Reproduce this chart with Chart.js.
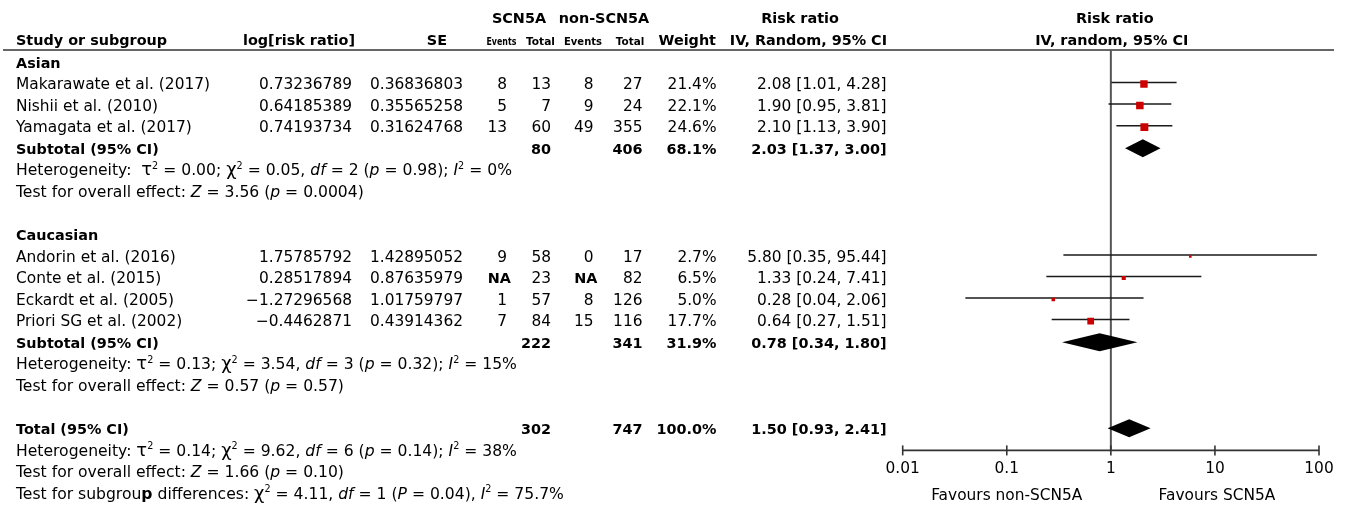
<!DOCTYPE html>
<html><head><meta charset="utf-8">
<script src="https://cdn.jsdelivr.net/npm/chart.js@4.4.1/dist/chart.umd.min.js"></script>
<style>html,body{margin:0;padding:0;background:#fff}#wrap{width:1347px;height:507px;position:relative}</style>
</head><body><div id="wrap"><canvas id="c"></canvas></div>
<script>
// ---------------- DATA ----------------
const groupNames = ['Asian', 'Caucasian'];
const studyNames = ['Makarawate et al. (2017)', 'Nishii et al. (2010)', 'Yamagata et al. (2017)',
  'Andorin et al. (2016)', 'Conte et al. (2015)', 'Eckardt et al. (2005)', 'Priori SG et al. (2002)'];
const studyGroup = ['Asian', 'Asian', 'Asian', 'Caucasian', 'Caucasian', 'Caucasian', 'Caucasian'];
const logRR = ['0.73236789', '0.64185389', '0.74193734', '1.75785792', '0.28517894', '\u22121.27296568', '\u22120.4462871'];
const seVals = ['0.36836803', '0.35565258', '0.31624768', '1.42895052', '0.87635979', '1.01759797', '0.43914362'];
const events1 = ['8', '5', '13', '9', 'NA', '1', '7'];
const totals1 = ['13', '7', '60', '58', '23', '57', '84'];
const events2 = ['8', '9', '49', '0', 'NA', '8', '15'];
const totals2 = ['27', '24', '355', '17', '82', '126', '116'];
const weights = [21.4, 22.1, 24.6, 2.7, 6.5, 5.0, 17.7];
const riskRatio = [2.08, 1.90, 2.10, 5.80, 1.33, 0.28, 0.64];
const ciLow = [1.01, 0.95, 1.13, 0.35, 0.24, 0.04, 0.27];
const ciHigh = [4.28, 3.81, 3.90, 95.44, 7.41, 2.06, 1.51];

const pooledLabels = ['Subtotal (95% CI)', 'Subtotal (95% CI)', 'Total (95% CI)'];
const pooledTotals1 = ['80', '222', '302'];
const pooledTotals2 = ['406', '341', '747'];
const pooledWeight = ['68.1%', '31.9%', '100.0%'];
const pooledRR = [2.03, 0.78, 1.50];
const pooledLow = [1.37, 0.34, 0.93];
const pooledHigh = [3.00, 1.80, 2.41];

const groupNotes = [
  ['Heterogeneity:  ~\u03C4~^2 = 0.00; ~\u03C7~^2 = 0.05, _df_ = 2 (_p_ = 0.98); _I_^2 = 0%',
   'Test for overall effect: _Z_ = 3.56 (_p_ = 0.0004)'],
  ['Heterogeneity: ~\u03C4~^2 = 0.13; ~\u03C7~^2 = 3.54, _df_ = 3 (_p_ = 0.32); _I_^2 = 15%',
   'Test for overall effect: _Z_ = 0.57 (_p_ = 0.57)']
];
const totalNotes = [
  'Heterogeneity: ~\u03C4~^2 = 0.14; ~\u03C7~^2 = 9.62, _df_ = 6 (_p_ = 0.14); _I_^2 = 38%',
  'Test for overall effect: _Z_ = 1.66 (_p_ = 0.10)',
  'Test for subgrou#p# differences: ~\u03C7~^2 = 4.11, _df_ = 1 (_P_ = 0.04), _I_^2 = 75.7%'
];
const tickValues = [0.01, 0.1, 1, 10, 100];
const tickLabels = ['0.01', '0.1', '1', '10', '100'];
const favourLabels = ['Favours non-SCN5A', 'Favours SCN5A'];

// ---------------- LAYOUT ----------------
const FAMILY = '"DejaVu Sans", sans-serif';
const REG = 15.4, NOTE = 15.6, BOLDSZ = 14.4;
const rows = [];
let idx = 0;
groupNames.forEach((g, gi) => {
  rows.push({ type: 'group', idx: idx++, label: g });
  studyNames.forEach((s, si) => { if (studyGroup[si] === g) rows.push({ type: 'study', idx: idx++, i: si }); });
  rows.push({ type: 'pooled', idx: idx++, p: gi });
  groupNotes[gi].forEach(t => rows.push({ type: 'note', idx: idx++, text: t }));
  idx++;
});
rows.push({ type: 'pooled', idx: idx++, p: 2 });
const axisRow = idx;
totalNotes.forEach(t => rows.push({ type: 'note', idx: idx++, text: t }));

const studyRow = {};
rows.forEach(r => { if (r.type === 'study') studyRow[r.i] = r.idx; });
const points = studyNames.map((s, i) => ({ x: riskRatio[i], y: studyRow[i] }));
const radii = weights.map(w => 1.13 * Math.sqrt(w));

const COL = { logRR: 352, se: 463, ev1: 507, tot1: 551, ev2: 593.5, tot2: 642.5, weight: 716.5, ci: 886.5 };

function fmt(v) { return v.toFixed(2); }

// markup: _italic_, #bold#, ~greek (larger)~, ^x superscript
function drawRich(ctx, str, x, y, size) {
  let italic = false, bold = false, big = false;
  let cx = x;
  let k = 0;
  const runs = [];
  let buf = '';
  const flush = () => { if (buf) { runs.push({ t: buf, italic, bold, big, sup: false }); buf = ''; } };
  while (k < str.length) {
    const ch = str[k];
    if (ch === '_') { flush(); italic = !italic; k++; continue; }
    if (ch === '#') { flush(); bold = !bold; k++; continue; }
    if (ch === '~') { flush(); big = !big; k++; continue; }
    if (ch === '^') { flush(); runs.push({ t: str[k + 1], italic: false, bold, big: false, sup: true }); k += 2; continue; }
    buf += ch; k++;
  }
  flush();
  runs.forEach(r => {
    const s = r.sup ? size * 0.62 : (r.big ? size * 1.15 : size);
    ctx.font = `${r.italic ? 'italic ' : ''}${r.bold ? 'bold ' : ''}${s}px ${FAMILY}`;
    ctx.fillText(r.t, cx, y - (r.sup ? size * 0.42 : 0));
    cx += ctx.measureText(r.t).width;
  });
}

const forestPlugin = {
  id: 'forest',
  beforeDatasetsDraw(chart) {
    const { ctx, chartArea, scales: { x, y } } = chart;
    ctx.save();
    // header rule
    ctx.strokeStyle = '#333'; ctx.lineWidth = 1.6;
    ctx.beginPath(); ctx.moveTo(3, chartArea.top); ctx.lineTo(1334, chartArea.top); ctx.stroke();
    // line of no effect
    ctx.strokeStyle = '#555'; ctx.lineWidth = 2;
    const x1 = x.getPixelForValue(1);
    ctx.beginPath(); ctx.moveTo(x1, chartArea.top); ctx.lineTo(x1, chartArea.bottom); ctx.stroke();
    // whiskers
    ctx.strokeStyle = '#1a1a1a'; ctx.lineWidth = 1.5;
    studyNames.forEach((s, i) => {
      const py = y.getPixelForValue(studyRow[i]) - 1.5;
      ctx.beginPath();
      ctx.moveTo(x.getPixelForValue(ciLow[i]), py);
      ctx.lineTo(x.getPixelForValue(ciHigh[i]), py);
      ctx.stroke();
    });
    ctx.restore();
  },
  afterDatasetsDraw(chart) {
    const { ctx, chartArea, scales: { x, y } } = chart;
    ctx.save();
    // diamonds
    ctx.fillStyle = '#000';
    rows.filter(r => r.type === 'pooled').forEach(r => {
      const py = y.getPixelForValue(r.idx) - 0.5;
      const h = 9;
      ctx.beginPath();
      ctx.moveTo(x.getPixelForValue(pooledLow[r.p]), py);
      ctx.lineTo(x.getPixelForValue(pooledRR[r.p]), py - h);
      ctx.lineTo(x.getPixelForValue(pooledHigh[r.p]), py);
      ctx.lineTo(x.getPixelForValue(pooledRR[r.p]), py + h);
      ctx.closePath(); ctx.fill();
    });
    // axis
    const ay = y.getPixelForValue(axisRow);
    ctx.strokeStyle = '#333'; ctx.lineWidth = 1.6;
    ctx.beginPath();
    ctx.moveTo(x.getPixelForValue(tickValues[0]), ay);
    ctx.lineTo(x.getPixelForValue(tickValues[tickValues.length - 1]), ay);
    ctx.stroke();
    ctx.fillStyle = '#000';
    ctx.textAlign = 'center'; ctx.textBaseline = 'alphabetic';
    ctx.font = `${REG}px ${FAMILY}`;
    tickValues.forEach((v, i) => {
      const px = x.getPixelForValue(v);
      ctx.beginPath(); ctx.moveTo(px, ay - 5); ctx.lineTo(px, ay + 5); ctx.stroke();
      ctx.fillText(tickLabels[i], px, ay + 23);
    });
    ctx.fillText(favourLabels[0], x.getPixelForValue(0.1), ay + 49.5);
    ctx.fillText(favourLabels[1], x.getPixelForValue(10) + 2, ay + 49.5);

    // headers
    const h2 = y.getPixelForValue(-2) + 3.7;
    const h1 = y.getPixelForValue(-1) + 3.7;
    const cx = (x.getPixelForValue(tickValues[0]) + x.getPixelForValue(tickValues[tickValues.length - 1])) / 2;
    ctx.font = `bold ${BOLDSZ}px ${FAMILY}`;
    ctx.textAlign = 'center';
    ctx.fillText('Risk ratio', cx + 4, h2);
    ctx.fillText('IV, random, 95% CI', cx + 1, h1);
    ctx.fillText('SCN5A', 519, h2);
    ctx.fillText('non-SCN5A', 604, h2);
    ctx.fillText('Risk ratio', 800, h2);
    ctx.textAlign = 'left';
    ctx.fillText('Study or subgroup', 16, h1);
    ctx.fillText('log[risk ratio]', 243, h1);
    ctx.textAlign = 'right';
    ctx.fillText('SE', 447, h1);
    ctx.fillText('Weight', 716, h1);
    ctx.fillText('IV, Random, 95% CI', 887, h1);
    ctx.font = `bold 11px ${FAMILY}`;
    ctx.textAlign = 'center';
    [['Events', 501.4, 30], ['Total', 540.5, 29], ['Events', 583, 38], ['Total', 630, 28.5]].forEach(([t, px, w]) => {
      ctx.fillText(t, px, h1, w);
    });

    // table rows
    rows.forEach(r => {
      const by = y.getPixelForValue(r.idx) + 5.2;
      if (r.type === 'group') {
        ctx.font = `bold ${BOLDSZ}px ${FAMILY}`; ctx.textAlign = 'left';
        ctx.fillText(r.label, 16, by);
      } else if (r.type === 'study') {
        const i = r.i;
        ctx.font = `${REG}px ${FAMILY}`; ctx.textAlign = 'left';
        ctx.fillText(studyNames[i], 16, by);
        ctx.textAlign = 'right';
        ctx.fillText(logRR[i], COL.logRR, by);
        ctx.fillText(seVals[i], COL.se, by);
        const cell = (v, col) => {
          if (v === 'NA') { ctx.font = `bold ${BOLDSZ}px ${FAMILY}`; ctx.fillText(v, col + 4, by); ctx.font = `${REG}px ${FAMILY}`; }
          else ctx.fillText(v, col, by);
        };
        cell(events1[i], COL.ev1);
        ctx.fillText(totals1[i], COL.tot1, by);
        cell(events2[i], COL.ev2);
        ctx.fillText(totals2[i], COL.tot2, by);
        ctx.fillText(weights[i].toFixed(1) + '%', COL.weight, by);
        ctx.fillText(`${fmt(riskRatio[i])} [${fmt(ciLow[i])}, ${fmt(ciHigh[i])}]`, COL.ci, by);
      } else if (r.type === 'pooled') {
        const p = r.p;
        ctx.font = `bold ${BOLDSZ}px ${FAMILY}`; ctx.textAlign = 'left';
        ctx.fillText(pooledLabels[p], 16, by);
        ctx.textAlign = 'right';
        ctx.fillText(pooledTotals1[p], COL.tot1, by);
        ctx.fillText(pooledTotals2[p], COL.tot2, by);
        ctx.fillText(pooledWeight[p], COL.weight, by);
        ctx.fillText(`${fmt(pooledRR[p])} [${fmt(pooledLow[p])}, ${fmt(pooledHigh[p])}]`, COL.ci, by);
      } else if (r.type === 'note') {
        ctx.textAlign = 'left';
        drawRich(ctx, r.text, 16, by, NOTE);
      }
    });
    ctx.restore();
  }
};

new Chart(document.getElementById('c'), {
  type: 'scatter',
  data: {
    datasets: [{
      data: points,
      pointStyle: 'rect',
      pointRadius: radii,
      pointHoverRadius: radii,
      backgroundColor: '#CC0000',
      borderWidth: 0
    }]
  },
  options: {
    responsive: true,
    maintainAspectRatio: false,
    animation: false,
    events: [],
    layout: { padding: { left: 902.7, right: 28, top: 50, bottom: 56.6 } },
    plugins: { legend: { display: false }, tooltip: { enabled: false } },
    scales: {
      x: { type: 'logarithmic', min: 0.01, max: 100, display: false },
      y: { type: 'linear', min: -0.58, max: 18, reverse: true, display: false }
    }
  },
  plugins: [forestPlugin]
});
</script></body></html>
